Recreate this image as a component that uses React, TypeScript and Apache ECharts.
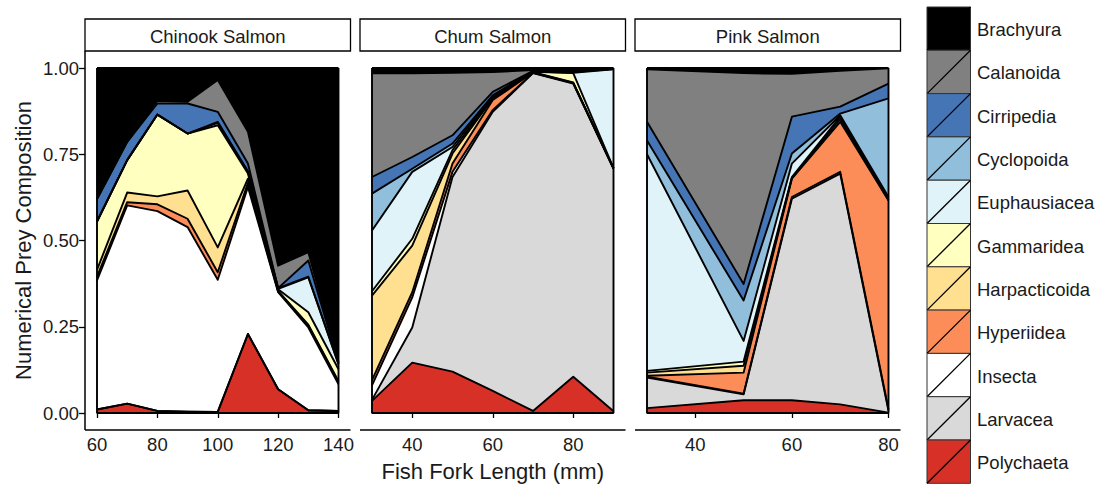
import React, { useEffect, useRef } from "react";
import * as echarts from "echarts";

// Prey taxa, stacked bottom (first) to top (last)
const species = [
  "Polychaeta",
  "Larvacea",
  "Insecta",
  "Hyperiidea",
  "Harpacticoida",
  "Gammaridea",
  "Euphausiacea",
  "Cyclopoida",
  "Cirripedia",
  "Calanoida",
  "Brachyura",
];
const speciesColors = [
  "#D73027",
  "#D9D9D9",
  "#FFFFFF",
  "#FC8D59",
  "#FEE090",
  "#FFFFBF",
  "#E0F3F8",
  "#91BFDB",
  "#4575B4",
  "#808080",
  "#000000",
];

const panelTitles = ["Chinook Salmon", "Chum Salmon", "Pink Salmon"];

// Chinook salmon: fork length (mm) and prey share per taxon
const chinookLengths = [60, 70, 80, 90, 100, 110, 120, 130, 140];
const chinookComposition: Record<string, number[]> = {
  Polychaeta: [0.01, 0.027, 0.006, 0.004, 0.003, 0.229, 0.069, 0.008, 0.006],
  Larvacea: [0, 0, 0, 0, 0, 0, 0, 0, 0],
  Insecta: [0.374, 0.575, 0.579, 0.535, 0.383, 0.426, 0.281, 0.24, 0.077],
  Hyperiidea: [0.011, 0.009, 0.02, 0.024, 0.022, 0.012, 0.002, 0.005, 0.007],
  Harpacticoida: [0.02, 0.028, 0.023, 0.082, 0.072, 0.012, 0.002, 0.003, 0.002],
  Gammaridea: [0.14, 0.094, 0.237, 0.165, 0.354, 0.015, 0.005, 0.036, 0.035],
  Euphausiacea: [0, 0, 0, 0, 0.007, 0.006, 0.001, 0.101, 0.014],
  Cyclopoida: [0, 0, 0, 0, 0.003, 0, 0.002, 0.002, 0.001],
  Cirripedia: [0.065, 0.053, 0.032, 0.087, 0.029, 0.023, 0, 0.047, 0.003],
  Calanoida: [0, 0, 0.008, 0.005, 0.092, 0.092, 0.065, 0.024, 0.002],
  Brachyura: [0.38, 0.214, 0.095, 0.098, 0.035, 0.185, 0.573, 0.534, 0.853],
};

// Chum salmon
const chumLengths = [30, 40, 50, 60, 70, 80, 90];
const chumComposition: Record<string, number[]> = {
  Polychaeta: [0.035, 0.146, 0.12, 0.064, 0.006, 0.105, 0.005],
  Larvacea: [0.003, 0.102, 0.564, 0.809, 0.979, 0.85, 0.703],
  Insecta: [0.042, 0.087, 0.015, 0.005, 0.001, 0.001, 0.001],
  Hyperiidea: [0.015, 0.015, 0.024, 0.029, 0.001, 0.001, 0],
  Harpacticoida: [0.245, 0.135, 0.029, 0.005, 0.001, 0.001, 0.001],
  Gammaridea: [0.013, 0.02, 0.01, 0.003, 0.001, 0.027, 0],
  Euphausiacea: [0.176, 0.194, 0.009, 0.004, 0.001, 0.001, 0.286],
  Cyclopoida: [0.107, 0.009, 0.01, 0.002, 0.001, 0.002, 0.001],
  Cirripedia: [0.048, 0.034, 0.024, 0.01, 0.001, 0.002, 0.001],
  Calanoida: [0.301, 0.243, 0.181, 0.057, 0.002, 0.004, 0],
  Brachyura: [0.015, 0.015, 0.014, 0.012, 0.006, 0.006, 0.002],
};

// Pink salmon
const pinkLengths = [30, 50, 60, 70, 80];
const pinkComposition: Record<string, number[]> = {
  Polychaeta: [0.014, 0.037, 0.037, 0.025, 0.001],
  Larvacea: [0.089, 0.017, 0.584, 0.669, 0.005],
  Insecta: [0.002, 0.002, 0.005, 0.005, 0.005],
  Hyperiidea: [0.003, 0.061, 0.053, 0.145, 0.605],
  Harpacticoida: [0.009, 0.02, 0.002, 0.008, 0.001],
  Gammaridea: [0.005, 0.012, 0.003, 0.007, 0.001],
  Euphausiacea: [0.628, 0.06, 0.039, 0.004, 0.008],
  Cyclopoida: [0.04, 0.117, 0.029, 0.005, 0.286],
  Cirripedia: [0.054, 0.048, 0.107, 0.02, 0.043],
  Calanoida: [0.152, 0.611, 0.124, 0.104, 0.044],
  Brachyura: [0.004, 0.015, 0.017, 0.008, 0.001],
};

const chinookTicks = [60, 80, 100, 120, 140];
const chumTicks = [40, 60, 80];
const pinkTicks = [40, 60, 80];
const shareTicks = [0, 0.25, 0.5, 0.75, 1];

const panelLengths = [chinookLengths, chumLengths, pinkLengths];
const panelCompositions = [chinookComposition, chumComposition, pinkComposition];
const panelTicks = [chinookTicks, chumTicks, pinkTicks];

const FONT = '"Liberation Sans", Arial, Helvetica, sans-serif';
const TEXT = "#1a1a1a";
const EDGE_WIDTH = 1.9;

// data-area placement of each facet, plus the surrounding panel padding
const dataLefts = [97, 372, 647];
const dataWidth = 241.5;
const dataTop = 68;
const dataHeight = 345;
const padX = 12;
const padY = 17;

// running totals of the shares, taxon by taxon, at each length
function cumulativeShares(comp: Record<string, number[]>, n: number): number[][] {
  const out: number[][] = [];
  const run = new Array(n).fill(0);
  species.forEach((sp) => {
    for (let i = 0; i < n; i++) run[i] += comp[sp][i];
    out.push(run.slice());
  });
  return out;
}

export default function App() {
  const ref = useRef<HTMLDivElement>(null);

  useEffect(() => {
    if (!ref.current) return;
    const chart = echarts.init(ref.current, null, { renderer: "svg" });

    const grids = dataLefts.map((left) => ({
      left,
      top: dataTop,
      width: dataWidth,
      height: dataHeight,
      containLabel: false,
    }));

    const xAxes = panelLengths.map((xs, p) => ({
      type: "value",
      gridIndex: p,
      min: xs[0],
      max: xs[xs.length - 1],
      offset: padY,
      axisLine: { show: false },
      axisTick: {
        show: true,
        length: 5,
        customValues: panelTicks[p],
        lineStyle: { color: "#000", width: 1.3 },
      },
      axisLabel: {
        customValues: panelTicks[p],
        margin: 5,
        color: TEXT,
        fontSize: 18.5,
        fontFamily: FONT,
      },
      splitLine: { show: false },
    }));

    const yAxes = panelLengths.map((_, p) => ({
      type: "value",
      gridIndex: p,
      min: 0,
      max: 1,
      show: p === 0,
      offset: padX,
      axisLine: { show: false },
      axisTick: {
        show: true,
        length: 6,
        customValues: shareTicks,
        lineStyle: { color: "#000", width: 1.3 },
      },
      axisLabel: {
        customValues: shareTicks,
        margin: 6,
        color: TEXT,
        fontSize: 18.5,
        fontFamily: FONT,
        formatter: (v: number) => v.toFixed(2),
      },
      splitLine: { show: false },
    }));

    const series: any[] = [];
    panelLengths.forEach((xs, p) => {
      const cum = cumulativeShares(panelCompositions[p], xs.length);
      // filled bands: draw from the top taxon down, each filled to zero,
      // so every lower band covers the part below its upper edge
      for (let k = species.length - 1; k >= 0; k--) {
        series.push({
          type: "line",
          name: species[k],
          xAxisIndex: p,
          yAxisIndex: p,
          data: xs.map((x, i) => [x, cum[k][i]]),
          symbol: "none",
          silent: true,
          z: 2,
          lineStyle: { width: 0, opacity: 0 },
          areaStyle: { color: speciesColors[k], opacity: 1, origin: "start" },
        });
      }
      // black outline on the upper edge of each band
      species.forEach((sp, k) => {
        series.push({
          type: "line",
          name: sp + " edge",
          xAxisIndex: p,
          yAxisIndex: p,
          data: xs.map((x, i) => [x, cum[k][i]]),
          symbol: "none",
          silent: true,
          clip: false,
          z: 3,
          lineStyle: { color: "#000", width: EDGE_WIDTH, join: "round" },
        });
      });
      const x0 = xs[0];
      const x1 = xs[xs.length - 1];
      // outer sides and base of the stacked polygons
      series.push({
        type: "line",
        xAxisIndex: p,
        yAxisIndex: p,
        data: [
          [x0, 1],
          [x0, 0],
          [x1, 0],
          [x1, 1],
        ],
        symbol: "none",
        silent: true,
        clip: false,
        z: 4,
        lineStyle: { color: "#000", width: EDGE_WIDTH },
      });
    });

    const graphic: any[] = [];
    const stripTop = 19;
    const stripBottom = dataTop - padY;
    dataLefts.forEach((left, p) => {
      const fl = left - padX;
      const fr = left + dataWidth + padX;
      graphic.push({
        type: "rect",
        shape: { x: fl, y: stripTop, width: fr - fl, height: stripBottom - stripTop },
        style: { fill: "#fff", stroke: "#000", lineWidth: 1.3 },
      });
      graphic.push({
        type: "text",
        x: (fl + fr) / 2,
        y: (stripTop + stripBottom) / 2 + 1,
        style: {
          text: panelTitles[p],
          font: `18.5px ${FONT}`,
          fill: TEXT,
          textAlign: "center",
          textVerticalAlign: "middle",
          align: "center",
          verticalAlign: "middle",
        },
      });
      // x axis line spanning the whole panel
      const yb = dataTop + dataHeight + padY;
      graphic.push({
        type: "line",
        shape: { x1: fl, y1: yb, x2: fr, y2: yb },
        style: { stroke: "#000", lineWidth: 1.5 },
      });
      if (p === 0) {
        graphic.push({
          type: "line",
          shape: { x1: fl, y1: stripBottom, x2: fl, y2: yb },
          style: { stroke: "#000", lineWidth: 1.5 },
        });
      }
    });

    // axis titles
    graphic.push({
      type: "text",
      x: (dataLefts[0] - padX + dataLefts[2] + dataWidth + padX) / 2,
      y: 471,
      style: {
        text: "Fish Fork Length (mm)",
        font: `22px ${FONT}`,
        fill: TEXT,
        textAlign: "center",
        textVerticalAlign: "middle",
        align: "center",
        verticalAlign: "middle",
      },
    });
    graphic.push({
      type: "text",
      x: 23,
      y: dataTop + dataHeight / 2,
      rotation: Math.PI / 2,
      style: {
        text: "Numerical Prey Composition",
        font: `22px ${FONT}`,
        fill: TEXT,
        textAlign: "center",
        textVerticalAlign: "middle",
        align: "center",
        verticalAlign: "middle",
      },
    });

    // legend: top entry is the uppermost band
    const keyX = 927;
    const keyW = 43.5;
    const keyTop = 7;
    const keyH = 43.3;
    const legendOrder = species.slice().reverse();
    legendOrder.forEach((sp, i) => {
      const k = species.indexOf(sp);
      const y = keyTop + i * keyH;
      graphic.push({
        type: "rect",
        shape: { x: keyX, y, width: keyW, height: keyH },
        style: { fill: speciesColors[k], stroke: "#333", lineWidth: 1 },
      });
      graphic.push({
        type: "line",
        shape: { x1: keyX, y1: y + keyH, x2: keyX + keyW, y2: y },
        style: { stroke: "#000", lineWidth: 1.3 },
      });
      graphic.push({
        type: "text",
        x: 977,
        y: y + keyH / 2 + 1,
        style: {
          text: sp,
          font: `18.5px ${FONT}`,
          fill: TEXT,
          textAlign: "left",
          textVerticalAlign: "middle",
          align: "left",
          verticalAlign: "middle",
        },
      });
    });

    chart.setOption({
      animation: false,
      backgroundColor: "#fff",
      grid: grids,
      xAxis: xAxes,
      yAxis: yAxes,
      series,
      graphic,
    });

    return () => chart.dispose();
  }, []);

  return (
    <div
      ref={ref}
      style={{ position: "absolute", left: 0, top: 0, width: 1103, height: 487 }}
    />
  );
}
